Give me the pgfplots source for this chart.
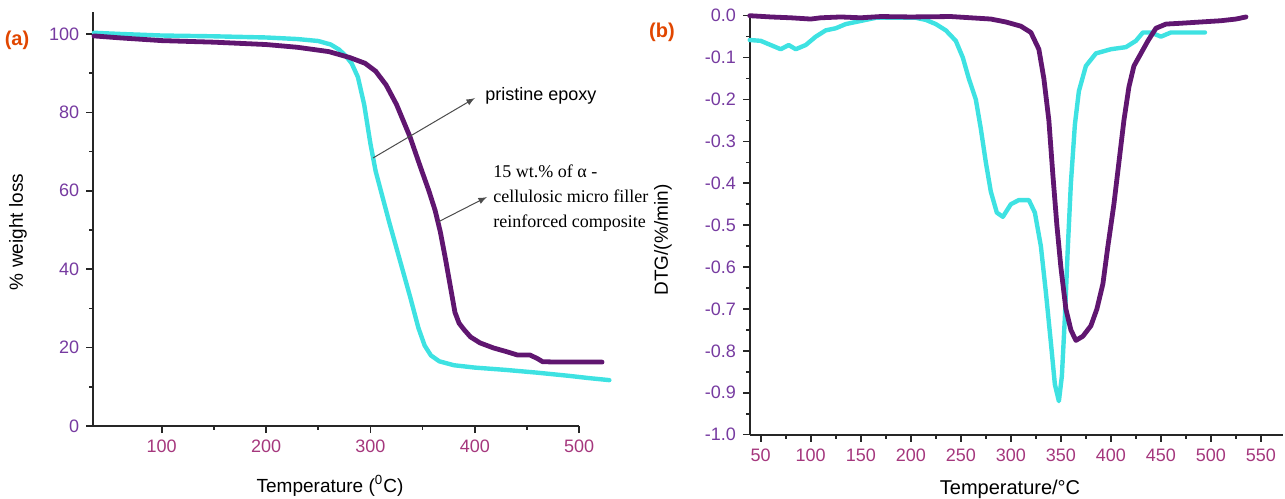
\documentclass[border=0pt]{standalone}
\usepackage{fontspec}
\setmainfont{Liberation Sans}
\newfontfamily\timesfont{Liberation Serif}
\usepackage{pgfplots}
\pgfplotsset{compat=1.18}

\definecolor{purp}{RGB}{96,22,112}
\definecolor{cyanc}{RGB}{62,226,226}
\definecolor{ylab}{RGB}{118,58,160}
\definecolor{xlab}{RGB}{165,55,125}
\definecolor{plab}{RGB}{225,70,0}

\pgfplotsset{
  tga/.style={
    scale only axis, anchor=south west,
    axis lines*=left,
    axis line style={line width=1pt, black!85},
    tick align=outside,
    major tick length=3.5pt, minor tick length=2pt,
    every tick/.style={black!85, line width=0.8pt},
    tick label style={font=\fontsize{9}{10}\selectfont},
    xticklabel style={text=xlab},
    yticklabel style={text=ylab},
    /pgf/number format/assume math mode=true,
    minor x tick num=1, minor y tick num=1,
    clip=false,
  },
  purpline/.style={purp, line width=2.4pt, line join=round, line cap=round},
  cyanline/.style={cyanc, line width=2.2pt, line join=round, line cap=round},
}

\begin{document}
\begin{tikzpicture}
\useasboundingbox (0,0) rectangle (642.5pt,249pt);

% (a) weight loss
\begin{axis}[tga, at={(46.65pt,36pt)},
  width=242.9pt, height=207pt,
  xmin=34.4, xmax=500, ymin=0, ymax=105.6,
  xtick={100,200,300,400,500}, ytick={0,20,40,60,80,100}]
\addplot[cyanline] coordinates {
(35,100.3) (60,100) (100,99.6) (150,99.4) (200,99.1) (230,98.7) (250,98.2)
(262,97.3) (270,96) (276,94.5) (282,92.5) (288,89) (294,82) (300,72) (305,65)
(310,60) (318,52) (328,42.5) (338,33) (346,25) (352,20.5) (358,18) (366,16.5)
(380,15.5) (400,14.9) (430,14.3) (460,13.6) (490,12.8) (510,12.2) (529,11.7)};
\addplot[purpline] coordinates {
(35,99.5) (60,99) (100,98.3) (150,97.9) (200,97.3) (230,96.6) (260,95.5)
(280,94) (295,92.5) (305,90.5) (315,87) (325,82) (338,73.7) (348,66) (356,60)
(362,55) (367,49.5) (372,42.5) (377,35) (381,29) (385,26.2) (390,24.5)
(396,22.7) (405,21.2) (418,19.9) (430,19) (441,18.1) (453,18.1) (460,17.2)
(465,16.4) (480,16.3) (500,16.3) (522,16.3)};
\end{axis}

% (b) DTG
\begin{axis}[tga, at={(375pt,31.65pt)},
  width=266.5pt, height=209.5pt,
  xmin=39.3, xmax=572, ymin=-1.0, ymax=0.0,
  xtick={50,100,150,200,250,300,350,400,450,500,550},
  ytick={-1.0,-0.9,-0.8,-0.7,-0.6,-0.5,-0.4,-0.3,-0.2,-0.1,0.0},
  yticklabels={-1.0,-0.9,-0.8,-0.7,-0.6,-0.5,-0.4,-0.3,-0.2,-0.1,0.0}]
\addplot[cyanline] coordinates {
(39,-0.058) (50,-0.06) (60,-0.07) (70,-0.08) (78,-0.07) (85,-0.08) (95,-0.07)
(105,-0.05) (115,-0.035) (125,-0.03) (135,-0.02) (145,-0.015) (155,-0.01)
(165,-0.005) (180,-0.005) (195,-0.005) (205,-0.005) (215,-0.01) (225,-0.02)
(235,-0.035) (245,-0.06) (252,-0.1) (258,-0.15) (265,-0.2) (270,-0.27)
(275,-0.35) (280,-0.42) (286,-0.47) (292,-0.48) (300,-0.45) (308,-0.44)
(318,-0.44) (324,-0.47) (330,-0.55) (335,-0.66) (340,-0.78) (344,-0.88)
(348,-0.92) (351,-0.86) (354,-0.72) (357,-0.55) (360,-0.40) (364,-0.26)
(368,-0.18) (375,-0.12) (385,-0.09) (400,-0.08) (415,-0.075) (425,-0.06)
(432,-0.04) (440,-0.04) (450,-0.05) (460,-0.04) (475,-0.04) (494,-0.04)};
\addplot[purpline] coordinates {
(39,0) (60,-0.003) (80,-0.005) (100,-0.008) (110,-0.005) (130,-0.003)
(150,-0.005) (170,-0.002) (200,-0.003) (240,-0.002) (260,-0.005) (280,-0.008)
(295,-0.015) (310,-0.025) (320,-0.04) (328,-0.08) (333,-0.15) (338,-0.25)
(342,-0.38) (346,-0.5) (350,-0.6) (355,-0.7) (360,-0.75) (365,-0.775)
(372,-0.765) (380,-0.74) (386,-0.7) (392,-0.64) (397,-0.55) (403,-0.45)
(408,-0.35) (413,-0.25) (418,-0.17) (423,-0.12) (430,-0.09) (437,-0.06)
(445,-0.03) (455,-0.02) (470,-0.018) (490,-0.015) (510,-0.012) (525,-0.008)
(535,-0.003)};
\end{axis}

% labels and notes
\node[rotate=90, font=\fontsize{9.5}{11}\selectfont] at (9pt,133pt) {\% weight loss};
\node[font=\fontsize{9.5}{11}\selectfont] at (165pt,6pt) {Temperature (\textsuperscript{0}C)};
\node[rotate=90, font=\fontsize{9.5}{11}\selectfont] at (331.5pt,129pt) {DTG/(\%/min)};
\node[font=\fontsize{10}{11}\selectfont] at (505pt,4.5pt) {Temperature/°C};
\node[font=\bfseries\fontsize{10}{12}\selectfont, text=plab] at (8.5pt,229pt) {(a)};
\node[font=\bfseries\fontsize{10}{12}\selectfont, text=plab] at (331pt,233pt) {(b)};
\node[anchor=west, font=\fontsize{9}{10}\selectfont, inner sep=0pt] at (242.5pt,201pt) {pristine epoxy};
\draw[-latex, black!70, line width=0.5pt] (186.5pt,170pt) -- (237.5pt,200pt);
\node[anchor=west, align=left, inner sep=0pt, font=\timesfont\fontsize{9}{12.5}\selectfont] at (246.5pt,150pt)
  {15 wt.\% of α -\\cellulosic micro filler\\reinforced composite};
\draw[-latex, black!70, line width=0.5pt] (219pt,138pt) -- (243.5pt,150.5pt);
\end{tikzpicture}
\end{document}
